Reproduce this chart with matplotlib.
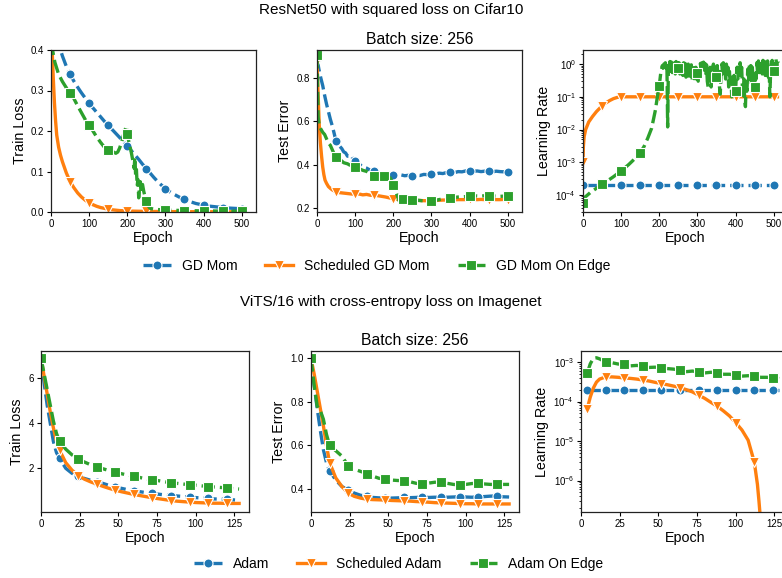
import numpy as np
import matplotlib
matplotlib.use("Agg")
import matplotlib.pyplot as plt

plt.rcParams['font.family'] = ['Liberation Sans', 'DejaVu Sans']
plt.rcParams['axes.edgecolor'] = '#222222'
plt.rcParams['axes.linewidth'] = 0.9
plt.rcParams['mathtext.default'] = 'regular'

BLUE, ORANGE, GREEN = '#1f77b4', '#ff7f0e', '#2ca02c'

# ---------------- ResNet50 / Cifar10 ----------------
cifar_labels = ['GD Mom', 'Scheduled GD Mom', 'GD Mom On Edge']

# train loss
gd_loss_ep = list(range(0, 520, 10))
gd_loss = [0.60, 0.48, 0.415, 0.385, 0.36, 0.34, 0.323, 0.308, 0.294, 0.281,
           0.268, 0.257, 0.246, 0.235, 0.224, 0.214, 0.204, 0.194, 0.184, 0.173,
           0.163, 0.152, 0.141, 0.13, 0.118, 0.107, 0.096, 0.085, 0.075, 0.066,
           0.058, 0.051, 0.045, 0.04, 0.035, 0.031, 0.027, 0.024, 0.021, 0.019,
           0.017, 0.015, 0.014, 0.013, 0.012, 0.011, 0.010, 0.0095, 0.009, 0.0085,
           0.008, 0.0078]
sched_loss_ep = [0, 3, 6, 9, 12, 15, 20, 25, 30, 40] + list(range(50, 520, 10))
sched_loss = [0.5, 0.4, 0.33, 0.27, 0.225, 0.19, 0.16, 0.14, 0.124, 0.097,
              0.075, 0.06, 0.047, 0.037, 0.029, 0.023, 0.018, 0.014, 0.011, 0.009,
              0.007, 0.0055, 0.0045, 0.0035, 0.003, 0.0025,
              0.0022, 0.002, 0.0018, 0.0016, 0.0015, 0.0014, 0.0013, 0.0012, 0.0011, 0.001,
              0.001, 0.0009, 0.0009, 0.0008, 0.0008, 0.0007, 0.0007, 0.0007, 0.0006, 0.0006,
              0.0006, 0.0006, 0.0005, 0.0005, 0.0005, 0.0005, 0.0005, 0.0004, 0.0004, 0.0004,
              0.0004]
edge_loss_ep = (list(range(0, 170, 10))
                + [170, 175, 180, 185, 190, 195, 198, 200, 205, 210,
                   215, 218, 220, 222, 224, 226, 228, 230, 232, 234,
                   236, 238, 240, 243, 246, 250, 255, 260]
                + list(range(270, 520, 10)))
edge_loss = [0.42, 0.37, 0.34, 0.322, 0.307, 0.295, 0.28, 0.262, 0.245, 0.228,
             0.215, 0.2, 0.185, 0.172, 0.16, 0.154, 0.15,
             0.145, 0.148, 0.158, 0.172, 0.19, 0.205, 0.212, 0.192, 0.17, 0.15,
             0.125, 0.108, 0.135, 0.09, 0.105, 0.065, 0.08, 0.035, 0.06, 0.075,
             0.05, 0.065, 0.068, 0.052, 0.04, 0.027, 0.015, 0.009,
             0.007, 0.006, 0.0055, 0.005, 0.0045, 0.0042, 0.004, 0.0038, 0.0035, 0.0033,
             0.0031, 0.003, 0.0028, 0.0027, 0.0026, 0.0025, 0.0024, 0.0023, 0.0022, 0.0021,
             0.002, 0.002, 0.0019, 0.0019, 0.0018]

# test error
gd_err_ep = list(range(0, 100, 5)) + list(range(100, 520, 10))
gd_err = [0.89, 0.84, 0.8, 0.765, 0.72, 0.68, 0.645, 0.61, 0.58, 0.545,
          0.508, 0.5, 0.485, 0.475, 0.46, 0.455, 0.44, 0.44, 0.425, 0.43,
          0.418, 0.405, 0.39, 0.385, 0.375, 0.372, 0.365, 0.362, 0.36, 0.356,
          0.355, 0.352, 0.354, 0.35, 0.352, 0.35, 0.353, 0.351, 0.356, 0.355,
          0.358, 0.357, 0.362, 0.36, 0.365, 0.366, 0.364, 0.369, 0.368, 0.372,
          0.373, 0.37, 0.372, 0.369, 0.371, 0.37, 0.368, 0.371, 0.369, 0.368,
          0.369, 0.367]
sched_err_ep = [0, 3, 6, 9, 12, 15, 18, 21, 25, 30, 35, 40, 45] + list(range(50, 520, 10))
sched_err = [0.88, 0.72, 0.58, 0.5, 0.44, 0.39, 0.355, 0.33, 0.315, 0.3, 0.292, 0.285, 0.28,
             0.274, 0.272, 0.27, 0.268, 0.266, 0.265, 0.266, 0.262, 0.264, 0.26,
             0.261, 0.258, 0.255, 0.252, 0.248, 0.243, 0.242, 0.24, 0.238, 0.237,
             0.237, 0.236, 0.236, 0.235, 0.235, 0.235, 0.236, 0.237, 0.238, 0.238,
             0.239, 0.239, 0.24, 0.24, 0.24, 0.241, 0.24, 0.24, 0.241, 0.24,
             0.24, 0.241, 0.24, 0.24, 0.241, 0.24, 0.24]
edge_err_ep = ([0, 3, 6, 10, 15, 20, 25, 30, 35, 40, 45, 50, 60, 70, 80, 90, 100, 110,
                120, 130, 140, 150, 160, 170, 175, 180, 190, 195, 200, 205, 210, 215,
                220, 225, 230, 240] + list(range(250, 520, 10)))
edge_err = [0.905, 0.62, 0.58, 0.565, 0.55, 0.54, 0.52, 0.5, 0.49, 0.47,
            0.45, 0.435, 0.425, 0.41, 0.405, 0.395, 0.389, 0.383, 0.375, 0.37,
            0.36, 0.35, 0.348, 0.35, 0.35, 0.352, 0.345, 0.33, 0.307, 0.285,
            0.26, 0.235, 0.24, 0.242, 0.238, 0.24,
            0.24, 0.238, 0.236, 0.234, 0.232, 0.232, 0.236, 0.24, 0.243, 0.246,
            0.247, 0.25, 0.252, 0.253, 0.254, 0.255, 0.256, 0.257, 0.256, 0.258,
            0.258, 0.257, 0.256, 0.255, 0.256, 0.255, 0.254]

# learning rate
gd_lr_ep = list(range(0, 520, 10))
gd_lr = [2e-4] * len(gd_lr_ep)
sched_lr_ep = [0, 1, 3, 7, 15, 25, 35] + list(range(50, 520, 10))
sched_lr = ([1e-3, 3e-3, 6e-3, 1e-2, 1.7e-2, 2.5e-2, 3.5e-2,
             5.3e-2, 6.5e-2, 7.7e-2, 8.8e-2, 9.6e-2] + [0.1] * 42)
edge_lr_ep = [0, 2, 5] + list(range(10, 200, 10)) + [195] + list(range(200, 514, 2))
edge_lr = [5.6e-5, 8e-5, 8.5e-5,
           9.5e-5, 1.2e-4, 1.45e-4, 1.75e-4, 2.1e-4, 2.5e-4, 3e-4, 3.6e-4, 4.4e-4, 5.4e-4,
           6.8e-4, 8.5e-4, 1.1e-3, 1.45e-3, 1.95e-3, 3e-3, 5.5e-3, 1.1e-2, 4e-2,
           0.1, 0.22,
           0.35, 0.55, 0.7, 0.9, 0.75,
           1.0, 0.7, 1.1, 0.75, 1.05,
           0.012, 0.9,
           0.55, 1.2, 0.6, 1.15, 0.55, 1.25, 0.65, 1.1, 0.5, 1.2, 0.6, 1.1, 0.75,
           1.1, 0.5, 1.2, 0.6, 1.15, 0.45, 1.1, 0.55, 1.05, 0.4,
           1.1, 0.5, 1.0, 0.35, 1.05, 0.45, 0.95, 0.3, 0.9, 0.4,
           0.85, 0.3, 0.8, 0.35, 0.55,
           0.3, 0.9, 0.45, 1.05, 0.5, 1.1, 0.55, 1.15, 0.6, 1.05,
           0.45, 0.95, 0.3, 0.2, 0.7, 0.35, 0.9, 0.2, 0.55, 0.3,
           1.0, 0.45, 0.8, 0.3, 0.4,
           0.9, 0.35, 0.6, 0.2, 0.12, 0.5, 1.0, 0.5, 1.1, 0.45,
           0.95, 0.35, 1.0, 0.4, 0.8, 0.2, 0.6, 0.25, 0.4, 0.1,
           0.35, 0.12, 0.45, 0.18, 0.15,
           0.4, 0.8, 0.35, 1.0, 0.45, 1.1, 0.5, 0.8, 0.2, 0.1,
           0.35, 0.08, 0.05, 0.3, 0.15, 0.7, 0.3, 1.0, 0.4, 0.9,
           0.25, 0.8, 0.3, 0.5, 0.2,
           0.6, 0.35, 1.1, 0.5, 1.25, 0.55, 1.3, 0.6, 1.2, 0.5,
           1.3, 0.6, 1.2, 0.45, 1.1, 0.5, 1.25, 0.4, 0.9, 0.1,
           0.6, 1.0, 1.3, 0.5, 0.6,
           1.2, 0.7, 1.5, 0.8, 1.4, 1.1]

cifar_marks = list(range(0, 520, 50))
edge_err_marks = [0, 50, 100, 150, 175, 200, 225, 250, 300, 350, 400, 450, 500]

# ---------------- ViT-S/16 / Imagenet ----------------
imnet_labels = ['Adam', 'Scheduled Adam', 'Adam On Edge']
imnet_ep = [0, 2, 4, 6, 8, 10, 12] + list(range(16, 132, 4))

adam_loss = [6.9, 5.8, 4.8, 4.0, 3.2, 2.7, 2.44,
             2.0, 1.78, 1.65, 1.55, 1.47, 1.41, 1.33, 1.24, 1.17, 1.11,
             1.05, 1.0, 0.96, 0.92, 0.89, 0.85, 0.82, 0.79, 0.77, 0.75,
             0.72, 0.70, 0.68, 0.66, 0.64, 0.63, 0.62, 0.6, 0.58]
sched_adam_loss = [6.9, 6.1, 5.3, 4.5, 3.8, 3.2, 2.8,
                   2.25, 1.92, 1.68, 1.52, 1.4, 1.3, 1.2, 1.11, 1.03, 0.96,
                   0.9, 0.84, 0.79, 0.74, 0.69, 0.65, 0.61, 0.57, 0.54, 0.52,
                   0.5, 0.48, 0.47, 0.46, 0.45, 0.45, 0.44, 0.44, 0.44]
edge_adam_loss = [6.9, 6.2, 5.5, 4.8, 4.1, 3.55, 3.2,
                  2.85, 2.6, 2.42, 2.28, 2.16, 2.07, 1.98, 1.9, 1.82, 1.76,
                  1.7, 1.65, 1.59, 1.53, 1.49, 1.45, 1.4, 1.36, 1.33, 1.3,
                  1.28, 1.25, 1.22, 1.19, 1.17, 1.15, 1.13, 1.1, 1.08]

adam_err = [1.0, 0.88, 0.77, 0.67, 0.58, 0.52, 0.483,
            0.44, 0.41, 0.395, 0.38, 0.37, 0.365, 0.36, 0.358, 0.358, 0.357,
            0.358, 0.36, 0.359, 0.36, 0.362, 0.36, 0.361, 0.36, 0.361, 0.362,
            0.363, 0.362, 0.361, 0.362, 0.364, 0.366, 0.367, 0.363, 0.362]
sched_adam_err = [1.0, 0.93, 0.85, 0.77, 0.69, 0.6, 0.52,
                  0.45, 0.41, 0.38, 0.365, 0.357, 0.352, 0.35, 0.349, 0.348, 0.346,
                  0.345, 0.344, 0.343, 0.341, 0.34, 0.338, 0.336, 0.335, 0.334, 0.333,
                  0.332, 0.331, 0.331, 0.33, 0.33, 0.33, 0.33, 0.33, 0.33]
edge_adam_err = [1.0, 0.88, 0.78, 0.76, 0.72, 0.65, 0.6,
                 0.575, 0.55, 0.505, 0.49, 0.48, 0.47, 0.458, 0.448, 0.445, 0.44,
                 0.438, 0.437, 0.432, 0.425, 0.422, 0.426, 0.43, 0.43, 0.425, 0.42,
                 0.418, 0.42, 0.424, 0.425, 0.422, 0.42, 0.42, 0.42, 0.42]

adam_lr_ep = [4, 6, 8, 10, 12] + list(range(16, 132, 4))
adam_lr = [2e-4] * len(adam_lr_ep)
edge_adam_lr = [5.2e-4, 9e-4, 1.25e-3, 1.28e-3, 1.2e-3,
                1.0e-3, 9.6e-4, 8.9e-4, 8.7e-4, 8.0e-4, 8.2e-4, 7.9e-4, 7.3e-4, 7.4e-4, 7.0e-4,
                6.8e-4, 6.6e-4, 6.2e-4, 5.7e-4, 5.9e-4, 5.6e-4, 5.3e-4, 5.5e-4, 5.3e-4, 4.9e-4,
                4.9e-4, 4.7e-4, 4.4e-4, 4.5e-4, 4.4e-4, 4.1e-4, 4.1e-4, 4.0e-4, 3.8e-4]
sched_adam_lr_ep = [4, 6, 8, 10, 12] + list(range(16, 116, 4)) + [114, 115, 116, 117]
sched_adam_lr = [6.5e-5, 1.3e-4, 2.2e-4, 3.1e-4, 3.7e-4,
                 4.2e-4, 4.2e-4, 4.1e-4, 3.95e-4, 3.85e-4, 3.7e-4, 3.5e-4, 3.3e-4, 3.05e-4, 2.85e-4,
                 2.65e-4, 2.45e-4, 2.25e-4, 2.0e-4, 1.75e-4, 1.45e-4, 1.2e-4, 9.5e-5, 7.6e-5, 5.8e-5,
                 4.3e-5, 2.9e-5, 1.9e-5, 1.05e-5, 2.9e-6,
                 8e-7, 3e-7, 1e-7, 1e-8]

imnet_marks = list(range(0, 132, 12))
imnet_lr_marks = list(range(4, 132, 12))

# ---------------- drawing ----------------
W, H = 782, 578
fig = plt.figure(figsize=(W / 100, H / 100), dpi=100)


def add_ax(x0, y0, x1, y1):
    """Axes placed by pixel box (left, top, right, bottom)."""
    return fig.add_axes([x0 / W, 1 - y1 / H, (x1 - x0) / W, (y1 - y0) / H])


DASH = (0, (4, 1.5))
STYLES = [(BLUE, DASH, 'o'), (ORANGE, '-', 'v'), (GREEN, DASH, 's')]


def draw(ax, x, y, k, marks, label):
    color, ls, mk = STYLES[k]
    x = np.asarray(x, dtype=float)
    idx = [int(i) for i in np.flatnonzero(np.isin(x, marks))]
    return ax.plot(x, y, color=color, linestyle=ls, lw=2.4, marker=mk,
                   markevery=idx, ms=6.5, mec='white', mew=0.8, label=label)[0]


def style(ax, ylabel, xticks):
    ax.set_xlabel('Epoch', fontsize=10.3, labelpad=1.5)
    ax.set_ylabel(ylabel, fontsize=10.3, labelpad=3)
    ax.set_xticks(xticks)
    ax.tick_params(axis='both', which='major', labelsize=7, length=3, width=0.8, pad=2)
    ax.tick_params(axis='both', which='minor', length=1.8, width=0.6)


# top row
ax1 = add_ax(51, 50, 256, 212)
ax2 = add_ax(317, 50, 522, 212)
ax3 = add_ax(583, 50, 788, 212)

h = [draw(ax1, gd_loss_ep, gd_loss, 0, cifar_marks, cifar_labels[0]),
     draw(ax1, sched_loss_ep, sched_loss, 1, cifar_marks, cifar_labels[1]),
     draw(ax1, edge_loss_ep, edge_loss, 2, cifar_marks, cifar_labels[2])]
ax1.set_xlim(0, 537.6)
ax1.set_ylim(0, 0.4)
ax1.set_yticks([0.0, 0.1, 0.2, 0.3, 0.4])
style(ax1, 'Train Loss', [0, 100, 200, 300, 400, 500])

draw(ax2, gd_err_ep, gd_err, 0, cifar_marks, None)
draw(ax2, sched_err_ep, sched_err, 1, cifar_marks, None)
draw(ax2, edge_err_ep, edge_err, 2, edge_err_marks, None)
ax2.set_xlim(0, 537.6)
ax2.set_ylim(0.183, 0.929)
ax2.set_yticks([0.2, 0.4, 0.6, 0.8])
ax2.set_title('Batch size: 256', fontsize=11.3, pad=4)
style(ax2, 'Test Error', [0, 100, 200, 300, 400, 500])

draw(ax3, gd_lr_ep, gd_lr, 0, cifar_marks, None)
draw(ax3, sched_lr_ep, sched_lr, 1, cifar_marks, None)
draw(ax3, edge_lr_ep, edge_lr, 2, cifar_marks, None)
ax3.set_yscale('log')
ax3.set_xlim(0, 537.6)
ax3.set_ylim(3e-5, 2.7)
style(ax3, 'Learning Rate', [0, 100, 200, 300, 400, 500])

# bottom row
bx1 = add_ax(41, 351, 249, 512)
bx2 = add_ax(311, 351, 519, 512)
bx3 = add_ax(581, 351, 789, 512)

g = [draw(bx1, imnet_ep, adam_loss, 0, imnet_marks, imnet_labels[0]),
     draw(bx1, imnet_ep, sched_adam_loss, 1, imnet_marks, imnet_labels[1]),
     draw(bx1, imnet_ep, edge_adam_loss, 2, imnet_marks, imnet_labels[2])]
bx1.set_xlim(0, 134.4)
bx1.set_ylim(0.06, 7.21)
bx1.set_yticks([2, 4, 6])
style(bx1, 'Train Loss', [0, 25, 50, 75, 100, 125])

draw(bx2, imnet_ep, adam_err, 0, imnet_marks, None)
draw(bx2, imnet_ep, sched_adam_err, 1, imnet_marks, None)
draw(bx2, imnet_ep, edge_adam_err, 2, imnet_marks, None)
bx2.set_xlim(0, 134.4)
bx2.set_ylim(0.293, 1.034)
bx2.set_yticks([0.4, 0.6, 0.8, 1.0])
bx2.set_title('Batch size: 256', fontsize=11.3, pad=4)
style(bx2, 'Test Error', [0, 25, 50, 75, 100, 125])

draw(bx3, adam_lr_ep, adam_lr, 0, imnet_lr_marks, None)
draw(bx3, sched_adam_lr_ep, sched_adam_lr, 1, imnet_lr_marks, None)
draw(bx3, adam_lr_ep, edge_adam_lr, 2, imnet_lr_marks, None)
bx3.set_yscale('log')
bx3.set_xlim(0, 134.4)
bx3.set_ylim(1.6e-7, 1.9e-3)
style(bx3, 'Learning Rate', [0, 25, 50, 75, 100, 125])

# section titles and legends
fig.text(391 / W, 1 - 10 / H, 'ResNet50 with squared loss on Cifar10',
         ha='center', va='center', fontsize=11)
fig.text(391 / W, 1 - 302 / H, 'ViTS/16 with cross-entropy loss on Imagenet',
         ha='center', va='center', fontsize=11)

fig.legend(h, cifar_labels, loc='center', bbox_to_anchor=(377 / W, 1 - 266 / H),
           ncol=3, frameon=False, fontsize=10)
fig.legend(g, imnet_labels, loc='center', bbox_to_anchor=(399 / W, 1 - 564 / H),
           ncol=3, frameon=False, fontsize=10)

fig.savefig('out.png', dpi=100)
